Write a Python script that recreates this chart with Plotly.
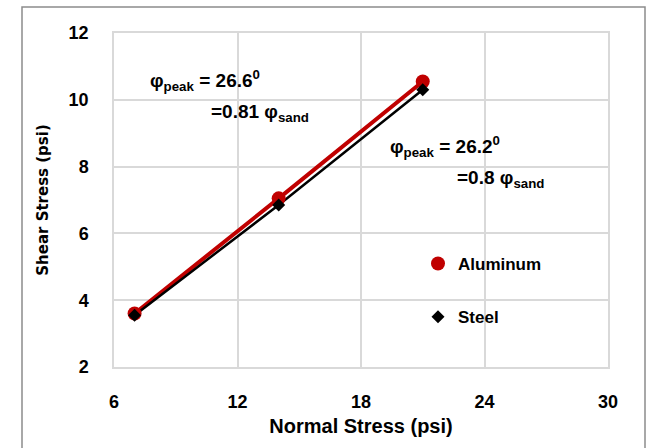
import plotly.graph_objects as go

normal_stress = [7, 14, 21]
aluminum_shear = [3.6, 7.05, 10.55]
steel_shear = [3.55, 6.85, 10.3]
x_ticks = [6, 12, 18, 24, 30]
y_ticks = [2, 4, 6, 8, 10, 12]

FONT = "Liberation Sans"

fig = go.Figure()
# trend lines (not in legend)
fig.add_trace(go.Scatter(x=normal_stress, y=aluminum_shear, mode="lines",
                         line=dict(color="#c00000", width=4), showlegend=False, hoverinfo="skip"))
fig.add_trace(go.Scatter(x=normal_stress, y=steel_shear, mode="lines",
                         line=dict(color="#000000", width=2.5), showlegend=False, hoverinfo="skip"))
# markers
fig.add_trace(go.Scatter(x=normal_stress, y=aluminum_shear, mode="markers", name="Aluminum",
                         legendgroup="a",
                         marker=dict(symbol="circle", size=14, color="#c00000")))
fig.add_trace(go.Scatter(x=normal_stress, y=steel_shear, mode="markers", name="Steel",
                         legendgroup="s",
                         marker=dict(symbol="diamond", size=10, color="#000000")))

ann_font = dict(family=FONT, size=19, color="black")
anns = [
    dict(x=148, y=80, text="<b>φ<sub>peak</sub> = 26.6<sup>0</sup></b>"),
    dict(x=209, y=113, text="<b>=0.81 φ<sub>sand</sub></b>"),
    dict(x=388, y=146, text="<b>φ<sub>peak</sub> = 26.2<sup>0</sup></b>"),
    dict(x=455, y=179, text="<b>=0.8 φ<sub>sand</sub></b>"),
]
L, T, W, H = 114, 33, 494, 334
annotations = []
for a in anns:
    annotations.append(dict(xref="paper", yref="paper",
                            x=(a["x"] - L) / W, y=(T + H - a["y"]) / H,
                            xanchor="left", yanchor="middle", showarrow=False,
                            text=a["text"], font=ann_font))

fig.update_layout(
    width=656, height=448,
    margin=dict(l=L, r=656 - L - W, t=T, b=448 - T - H),
    paper_bgcolor="white", plot_bgcolor="white",
    font=dict(family=FONT, size=15, color="black"),
    xaxis=dict(range=[6, 30], tickvals=x_ticks, showgrid=True, gridcolor="#d9d9d9", gridwidth=1.5,
               showline=True, linecolor="#d9d9d9", linewidth=1.5, mirror=True, zeroline=False,
               ticks="", ticklabelstandoff=18,
               tickfont=dict(family=FONT, size=18, weight="bold"),
               title=dict(text="<b>Normal Stress (psi)</b>", font=dict(family=FONT, size=20), standoff=8)),
    yaxis=dict(range=[2, 12], tickvals=y_ticks, showgrid=True, gridcolor="#d9d9d9", gridwidth=1.5,
               showline=True, linecolor="#d9d9d9", linewidth=1.5, mirror=True, zeroline=False,
               ticks="", ticklabelstandoff=20,
               tickfont=dict(family=FONT, size=18, weight="bold"),
               title=dict(text="<b>Shear Stress (psi)</b>", font=dict(family="DejaVu Sans", size=15), standoff=16)),
    legend=dict(x=(418 - L) / W, y=(T + H - 246) / H, xanchor="left", yanchor="top",
                bgcolor="rgba(0,0,0,0)", font=dict(family=FONT, size=17, weight="bold"),
                tracegroupgap=28, itemwidth=30),
    annotations=annotations,
    shapes=[dict(type="rect", xref="paper", yref="paper",
                 x0=(22 - L) / W, x1=(645 - L) / W, y0=(T + H - 452) / H, y1=(T + H - 7) / H,
                 line=dict(color="#8c8c8c", width=1.5), fillcolor="rgba(0,0,0,0)", layer="below")],
)

fig.write_html("out.html")
